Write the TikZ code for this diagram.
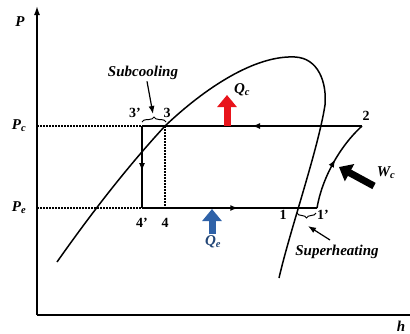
\documentclass[tikz,border=0pt]{standalone}
\usepackage{fontspec}
\setmainfont{Liberation Serif}
\usetikzlibrary{arrows.meta,decorations.pathreplacing,decorations.markings}
\definecolor{QcRed}{HTML}{E8141B}
\definecolor{QeBlue}{HTML}{2F62A8}
\tikzset{
  cyc/.style={line width=1.5pt},
  guide/.style={line width=1.5pt,dash pattern=on 1.5pt off 1.5pt},
  midarrow/.style={postaction={decorate},decoration={markings,mark=at position #1 with {\arrow{Latex[length=8pt,width=6pt]}}}},
  heat/.style={line width=7pt,-{Triangle[length=12pt,width=19pt]}},
  lbl/.style={font=\bfseries\itshape\fontsize{15}{18}\selectfont},
  num/.style={font=\bfseries\fontsize{14}{16}\selectfont},
}

\begin{document}
\begin{tikzpicture}[x=1pt,y=-1pt]
  \useasboundingbox (0,0) rectangle (410,333);
  % axes
  \coordinate (o) at (37,315);
  \coordinate (ptop) at (37,6);
  \coordinate (hend) at (410,315);
  \draw[line width=1.5pt,-{Latex[length=9pt,width=6pt]}] (o) -- (ptop);
  \draw[line width=1.5pt] (o) -- (hend);
  \node[lbl] (plbl) at (20,22) {P};
  \node[lbl] (hlbl) at (401,326) {h};

  % saturation dome
  \draw[cyc] (57,262) .. controls (95,208) and (130,164) .. (165,126)
    .. controls (205,88) and (255,55) .. (295,57)
    .. controls (318,58) and (327,82) .. (325,105)
    .. controls (318,150) and (290,230) .. (279,278);

  % cycle points
  \coordinate (p3p) at (142,126);
  \coordinate (p3) at (165,126);
  \coordinate (p2) at (362,126);
  \coordinate (p4p) at (142,208);
  \coordinate (p4) at (165,208);
  \coordinate (p1) at (296,208);
  \coordinate (p1p) at (317,208);
  \coordinate (pc) at (37,126);
  \coordinate (pe) at (37,208);

  % pressure levels
  \node[lbl] (pclbl) at (19,126) {P\textsubscript{c}};
  \node[lbl] (pelbl) at (19,208) {P\textsubscript{e}};
  \draw[guide] (pc) -- (p3p);
  \draw[guide] (pe) -- (p4p);
  \draw[guide] (p3) -- (p4);

  % cycle
  \draw[cyc,midarrow=0.5] (p2) -- (p3p);
  \draw[cyc,midarrow=0.55] (p3p) -- (p4p);
  \draw[cyc,midarrow=0.55] (p4p) -- (p1p);
  \draw[cyc,midarrow=0.55] (p1p) .. controls (322,178) and (340,146) .. (p2);

  \node[num] (n3p) at (135,113) {3'};
  \node[num] (n3) at (167,113) {3};
  \node[num] (n2) at (366,116) {2};
  \node[num] (n4p) at (142,223) {4'};
  \node[num] (n4) at (165,223) {4};
  \node[num] (n1) at (283,215) {1};
  \node[num] (n1p) at (323,215) {1'};

  % subcooling
  \draw[line width=1pt,decorate,decoration={brace,amplitude=5pt}] (142,122) -- (166,122);
  \node[lbl] (subc) at (143,73) {Subcooling};
  \coordinate (subtip) at (153,114);
  \draw[line width=1.2pt,-{Latex[length=8pt,width=6pt]}] (subc.south) ++(4,-2) -- (subtip);

  % superheating
  \draw[line width=1pt,decorate,decoration={brace,amplitude=5pt}] (316,213) -- (297,213);
  \node[lbl] (suph) at (337,252) {Superheating};
  \coordinate (suptail) at (330,240);
  \coordinate (suptip) at (308,226);
  \draw[line width=1.2pt,-{Latex[length=8pt,width=6pt]}] (suptail) -- (suptip);

  % heat and work
  \coordinate (qct) at (227,126);
  \coordinate (qch) at (227,95);
  \draw[heat,QcRed] (qct) -- (qch);
  \node[lbl] (qc) at (242,90) {Q\textsubscript{c}};
  \coordinate (qet) at (212,234);
  \coordinate (qeh) at (212,209);
  \draw[heat,QeBlue] (qet) -- (qeh);
  \node[lbl,text=QeBlue!70!black] (qe) at (213,242) {Q\textsubscript{e}};
  \coordinate (wct) at (374,186);
  \coordinate (wch) at (339,167);
  \draw[heat] (wct) -- (wch);
  \node[lbl] (wc) at (386,173) {W\textsubscript{c}};
\end{tikzpicture}
\end{document}
